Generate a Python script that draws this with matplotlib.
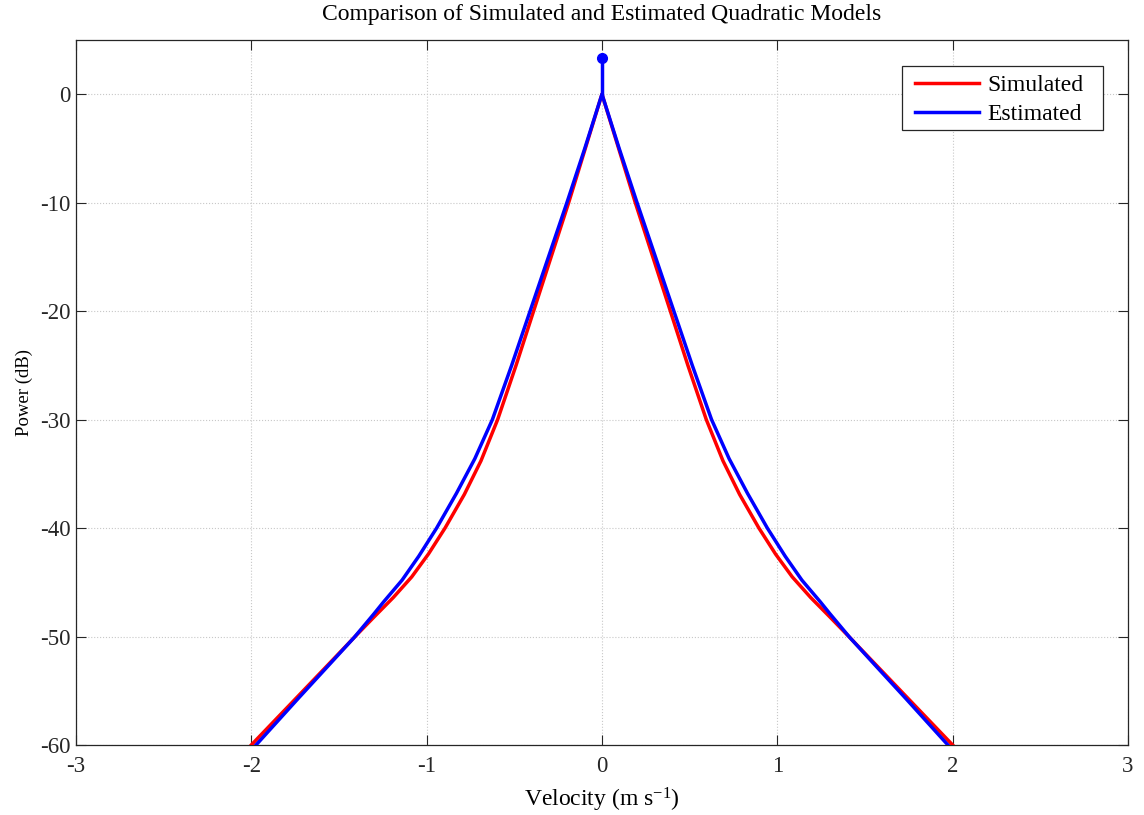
import matplotlib
matplotlib.use("Agg")
import matplotlib.pyplot as plt
from matplotlib.patches import Rectangle

# ---- data ----
vel_sim = [-2.0, -1.757, -1.55, -1.414, -1.30, -1.19, -1.085, -0.99, -0.895, -0.785,
           -0.69, -0.595, -0.49, -0.39, -0.29, -0.19, -0.095, 0.0,
           0.095, 0.19, 0.29, 0.39, 0.49, 0.595, 0.69, 0.785, 0.895,
           0.99, 1.085, 1.19, 1.30, 1.414, 1.55, 1.757, 2.0]
pow_sim = [-60.0, -55.9, -52.4, -50.1, -48.2, -46.4, -44.5, -42.4, -40.0, -36.9,
           -33.8, -30.0, -25.0, -20.0, -15.0, -10.0, -5.0, 0.0,
           -5.0, -10.0, -15.0, -20.0, -25.0, -30.0, -33.8, -36.9, -40.0,
           -42.4, -44.5, -46.4, -48.2, -50.1, -52.4, -55.9, -60.0]

vel_est = [-1.973, -1.732, -1.55, -1.414, -1.30, -1.245, -1.14, -1.045, -0.943, -0.83,
           -0.725, -0.625, -0.515, -0.41, -0.305, -0.2, -0.098, 0.0,
           0.098, 0.2, 0.305, 0.41, 0.515, 0.625, 0.725, 0.83, 0.943,
           1.045, 1.14, 1.245, 1.30, 1.414, 1.55, 1.732, 1.973]
pow_est = [-60.0, -55.7, -52.5, -50.1, -47.9, -46.8, -44.8, -42.6, -40.0, -36.8,
           -33.6, -30.0, -25.0, -20.0, -15.0, -10.0, -5.0, 0.0,
           -5.0, -10.0, -15.0, -20.0, -25.0, -30.0, -33.6, -36.8, -40.0,
           -42.6, -44.8, -46.8, -47.9, -50.1, -52.5, -55.7, -60.0]

spike_vel = [0.0, 0.0]
spike_pow = [0.0, 3.35]

xticks = [-3, -2, -1, 0, 1, 2, 3]
yticks = [-60, -50, -40, -30, -20, -10, 0]

# ---- style ----
plt.rcParams['font.family'] = ['Liberation Serif', 'DejaVu Serif']
plt.rcParams['mathtext.default'] = 'regular'

fig = plt.figure(figsize=(11.44, 8.15), dpi=100)
ax = fig.add_axes([0.0664, 0.0859, 0.9196, 0.8651])

ax.plot(vel_sim, pow_sim, color=(1, 0, 0), lw=2.5, label='Simulated', zorder=3,
        solid_joinstyle='round')
ax.plot(vel_est, pow_est, color=(0, 0, 1), lw=2.5, label='Estimated', zorder=4,
        solid_joinstyle='round')
ax.plot(spike_vel, spike_pow, color=(0, 0, 1), lw=2.5, zorder=4)
ax.plot(spike_vel[-1:], spike_pow[-1:], 'o', color=(0, 0, 1), ms=7, zorder=5)

ax.set_xlim(-3, 3)
ax.set_ylim(-60, 5)
ax.set_xticks(xticks)
ax.set_yticks(yticks)
ax.set_xticklabels([str(t) for t in xticks])
ax.set_yticklabels([str(t) for t in yticks])

ax.grid(True, color='#c8c8c8', linestyle=':', linewidth=0.8)
ax.set_axisbelow(True)
ax.tick_params(direction='in', length=7, width=0.8, colors='#262626',
               top=True, right=True, labelsize=16.5)
ax.tick_params(axis='y', pad=4)
ax.tick_params(axis='x', pad=8)
for s in ax.spines.values():
    s.set_color('#262626')
    s.set_linewidth(0.9)

ax.set_title('Comparison of Simulated and Estimated Quadratic Models', fontsize=17, pad=14)
ax.set_xlabel('Velocity (m s$^{-1}$)', fontsize=17, labelpad=6)
ax.set_ylabel('Power (dB)', fontsize=13.5, labelpad=5)

# legend box (frame drawn separately to match the wider side padding)
ax.add_patch(Rectangle((0.785, 0.872), 0.191, 0.091, transform=ax.transAxes,
                       facecolor='white', edgecolor='#262626', linewidth=0.9,
                       zorder=6))
leg = ax.legend(loc='upper left', bbox_to_anchor=(0.7975, 0.951), fontsize=17,
                frameon=False, borderaxespad=0, borderpad=0, handlelength=2.7,
                handletextpad=0.35, labelspacing=0.33)
leg.set_zorder(7)

fig.savefig('out.png', dpi=100)
